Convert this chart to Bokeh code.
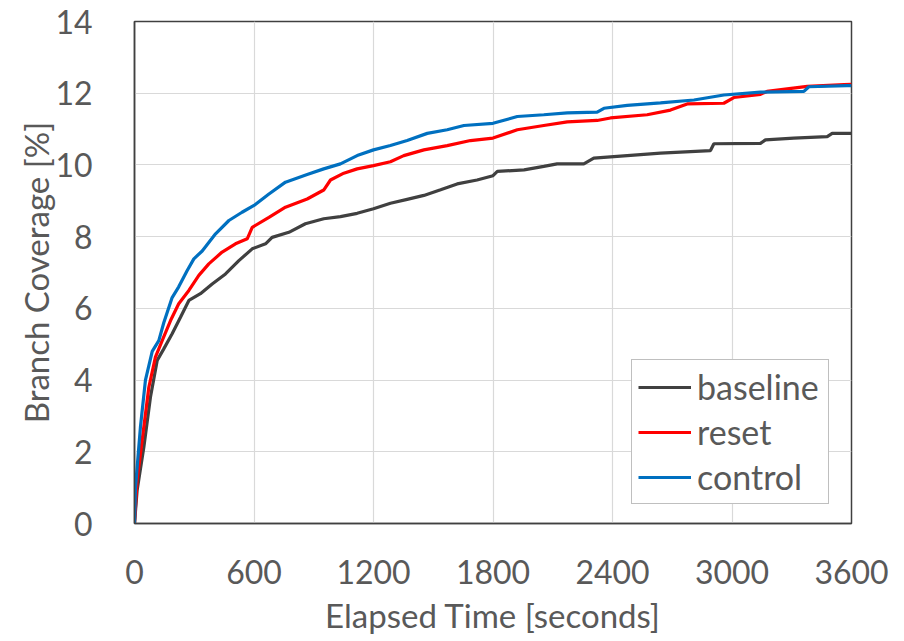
from bokeh.plotting import figure
from bokeh.models import FixedTicker, Range1d, Legend, LegendItem
from bokeh.embed import file_html
from bokeh.resources import INLINE

# ---- data ----
baseline_t = [0, 13, 47, 80, 114, 147, 189, 231, 273, 331, 390, 457, 524, 591, 658, 691,
              775, 858, 950, 1034, 1118, 1200, 1285, 1369, 1453, 1537, 1620, 1720, 1800,
              1822, 1956, 2055, 2122, 2256, 2306, 2474, 2641, 2892, 2909, 3143, 3168,
              3310, 3478, 3503, 3600]
baseline_v = [0, 0.92, 2.13, 3.52, 4.55, 4.87, 5.29, 5.75, 6.22, 6.41, 6.68, 6.96, 7.33,
              7.66, 7.8, 7.98, 8.12, 8.36, 8.5, 8.56, 8.65, 8.78, 8.93, 9.04, 9.15, 9.31,
              9.47, 9.58, 9.7, 9.82, 9.86, 9.96, 10.03, 10.03, 10.19, 10.26, 10.33, 10.4,
              10.59, 10.6, 10.7, 10.75, 10.79, 10.88, 10.88]

reset_t = [0, 13, 38, 72, 105, 139, 181, 222, 273, 323, 373, 440, 507, 566, 591, 675, 758,
           867, 950, 984, 1051, 1118, 1200, 1285, 1352, 1453, 1570, 1687, 1800, 1922, 2055,
           2173, 2323, 2390, 2574, 2691, 2775, 2959, 3009, 3143, 3176, 3378, 3562, 3600]
reset_v = [0, 1.2, 2.3, 3.8, 4.64, 5.1, 5.66, 6.13, 6.5, 6.92, 7.24, 7.57, 7.8, 7.94, 8.26,
           8.54, 8.82, 9.05, 9.3, 9.58, 9.77, 9.89, 9.98, 10.09, 10.26, 10.42, 10.54, 10.68,
           10.75, 10.98, 11.1, 11.2, 11.24, 11.31, 11.4, 11.53, 11.7, 11.72, 11.88, 11.97,
           12.05, 12.19, 12.24, 12.25]

control_t = [0, 5, 30, 55, 89, 122, 147, 189, 222, 264, 298, 340, 407, 474, 540, 600, 675,
             758, 867, 950, 1034, 1118, 1200, 1285, 1369, 1470, 1570, 1654, 1800, 1922,
             2055, 2173, 2323, 2357, 2474, 2641, 2809, 2959, 3143, 3361, 3386, 3578, 3600]
control_v = [0, 1.0, 2.7, 4.0, 4.8, 5.1, 5.6, 6.3, 6.6, 7.05, 7.38, 7.6, 8.08, 8.45, 8.68,
             8.87, 9.19, 9.52, 9.73, 9.89, 10.03, 10.26, 10.42, 10.54, 10.68, 10.88, 10.98,
             11.1, 11.16, 11.35, 11.4, 11.45, 11.47, 11.58, 11.66, 11.73, 11.81, 11.95,
             12.03, 12.05, 12.18, 12.21, 12.21]

x_ticks = [0, 600, 1200, 1800, 2400, 3000, 3600]
y_ticks = [0, 2, 4, 6, 8, 10, 12, 14]
series_names = ["baseline", "reset", "control"]
series_colors = ["#404040", "#FF0000", "#0070C0"]

FONT = "Lato"
TXT = "#595959"

p = figure(frame_width=717, frame_height=502, output_backend="svg", toolbar_location=None,
           x_range=Range1d(0, 3600), y_range=Range1d(0, 14))
p.min_border_left = 134
p.min_border_right = 53
p.min_border_top = 21
p.min_border_bottom = 118
p.background_fill_color = "white"
p.border_fill_color = "white"
p.outline_line_color = "#404040"
p.outline_line_width = 1.5

for ax in (p.xaxis[0], p.yaxis[0]):
    ax.major_label_text_font = FONT
    ax.major_label_text_font_size = "32px"
    ax.major_label_text_color = TXT
    ax.axis_label_text_font = FONT
    ax.axis_label_text_font_size = "33px"
    ax.axis_label_text_color = TXT
    ax.axis_label_text_font_style = "normal"
    ax.major_tick_line_color = None
    ax.minor_tick_line_color = None
    ax.axis_line_color = "#404040"
    ax.axis_line_width = 1.5

p.xaxis.ticker = FixedTicker(ticks=x_ticks)
p.yaxis.ticker = FixedTicker(ticks=y_ticks)
p.xaxis.axis_label = "Elapsed Time [seconds]"
p.yaxis.axis_label = "Branch Coverage [%]"
p.xaxis.major_label_standoff = 30
p.yaxis.major_label_standoff = 36
p.xaxis.axis_label_standoff = 8
p.yaxis.axis_label_standoff = -4

p.xgrid.grid_line_color = "#D9D9D9"
p.ygrid.grid_line_color = "#D9D9D9"
p.xgrid.grid_line_width = 1.2
p.ygrid.grid_line_width = 1.2

items = []
for name, color, t, v in zip(series_names, series_colors,
                             [baseline_t, reset_t, control_t],
                             [baseline_v, reset_v, control_v]):
    r = p.line(t, v, line_color=color, line_width=3.2)
    items.append(LegendItem(label=name, renderers=[r]))

legend = Legend(items=items, location=(497, 19))
legend.label_text_font = FONT
legend.label_text_font_size = "34px"
legend.label_text_color = TXT
legend.border_line_color = "#808080"
legend.border_line_width = 1.2
legend.background_fill_color = "white"
legend.background_fill_alpha = 1.0
legend.glyph_width = 53
legend.glyph_height = 36
legend.label_height = 36
legend.label_width = 125
legend.label_standoff = 6
legend.spacing = 4
legend.padding = 6
legend.margin = 0
p.add_layout(legend, "center")

open("out.html", "w").write(file_html(p, INLINE))
